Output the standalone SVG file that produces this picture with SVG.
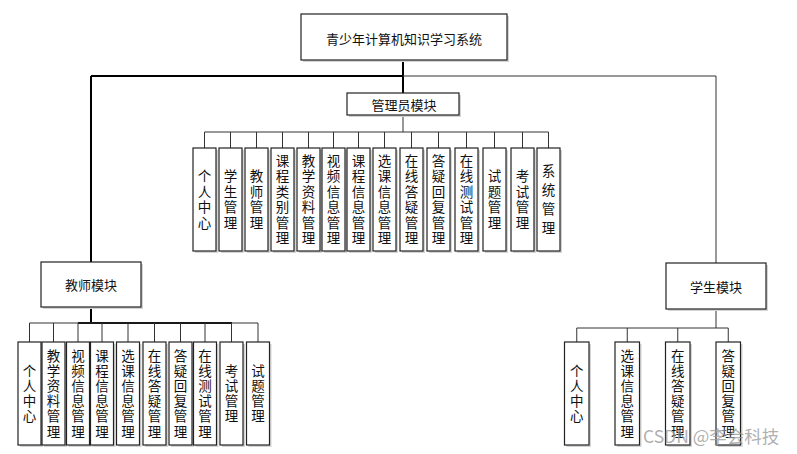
<svg xmlns="http://www.w3.org/2000/svg" width="797" height="454" viewBox="0 0 797 454">
<style>
.bx{fill:#fff;stroke:#222;stroke-width:1.2}
.sh{fill:#d4d4d4;stroke:none}
.t{font-family:"Noto Sans CJK SC","Liberation Sans",sans-serif;fill:#111;text-anchor:middle;dominant-baseline:central;font-size:13px}
.v{font-family:"Liberation Sans","Noto Sans CJK SC",sans-serif;font-size:13.5px;fill:#111;text-anchor:middle;dominant-baseline:central}
.ln{stroke:#333;stroke-width:1;fill:none}
.lk{stroke:#000;stroke-width:2;fill:none}
.wm{font-family:"Noto Sans CJK SC","Liberation Sans",sans-serif;font-size:17.5px;fill:#9a9a9a;fill-opacity:0.8}
</style>
<rect width="797" height="454" fill="#fff"/>
<g id="connectors">
<path class="lk" d="M403,60V93 M91,76H403 M91,76V263"/>
<path class="ln" d="M403,76H716V263"/>
<path class="ln" d="M403,115V132 M204.5,132H548.5 M204.5,132V148 M230.5,132V148 M256.5,132V148 M282.5,132V148 M308.5,132V148 M333.5,132V148 M358.5,132V148 M384.5,132V148 M411.5,132V148 M438.5,132V148 M466.5,132V148 M494.5,132V148 M522.5,132V148 M548.5,132V148"/>
<path class="lk" d="M91,307V323 M78,323H232"/>
<path class="ln" d="M29.5,323H258 M29.5,323V342 M53.5,323V342 M78,323V342 M102,323V342 M128,323V342 M154.5,323V342 M180.5,323V342 M205,323V342 M231.5,323V342 M258,323V342"/>
<path class="ln" d="M716,309V328 M576.75,328H728.25 M576.75,328V342 M627.25,328V342 M677.75,328V342 M728.25,328V342"/>
</g>
<g id="root"><rect class="sh" x="303" y="16" width="206" height="46"/><rect class="bx" x="301" y="14" width="206" height="46"/><text class="t" x="404" y="38">青少年计算机知识学习系统</text></g>
<g id="admin"><rect class="sh" x="349" y="95" width="112" height="22"/><rect class="bx" x="347" y="93" width="112" height="22"/><text class="t" x="404" y="104">管理员模块</text></g>
<g id="teacher"><rect class="sh" x="43" y="264" width="100" height="45"/><rect class="bx" x="41" y="262" width="100" height="45"/><text class="t" x="91" y="284">教师模块</text></g>
<g id="student"><rect class="sh" x="668" y="265" width="100" height="46"/><rect class="bx" x="666" y="263" width="100" height="46"/><text class="t" x="716" y="286">学生模块</text></g>

<g id="a1"><rect class="sh" x="195" y="150" width="23" height="103"/><rect class="bx" x="193" y="148" width="23" height="103"/><text class="v"><tspan x="204.5" y="176.4">个</tspan><tspan x="204.5" y="191.8">人</tspan><tspan x="204.5" y="207.2">中</tspan><tspan x="204.5" y="222.6">心</tspan></text></g>
<g id="a2"><rect class="sh" x="221" y="150" width="23" height="103"/><rect class="bx" x="219" y="148" width="23" height="103"/><text class="v"><tspan x="230.5" y="176.4">学</tspan><tspan x="230.5" y="191.8">生</tspan><tspan x="230.5" y="207.2">管</tspan><tspan x="230.5" y="222.6">理</tspan></text></g>
<g id="a3"><rect class="sh" x="247" y="150" width="23" height="103"/><rect class="bx" x="245" y="148" width="23" height="103"/><text class="v"><tspan x="256.5" y="176.4">教</tspan><tspan x="256.5" y="191.8">师</tspan><tspan x="256.5" y="207.2">管</tspan><tspan x="256.5" y="222.6">理</tspan></text></g>
<g id="a4"><rect class="sh" x="273" y="150" width="23" height="103"/><rect class="bx" x="271" y="148" width="23" height="103"/><text class="v"><tspan x="282.5" y="161">课</tspan><tspan x="282.5" y="176.4">程</tspan><tspan x="282.5" y="191.8">类</tspan><tspan x="282.5" y="207.2">别</tspan><tspan x="282.5" y="222.6">管</tspan><tspan x="282.5" y="238">理</tspan></text></g>
<g id="a5"><rect class="sh" x="299" y="150" width="23" height="103"/><rect class="bx" x="297" y="148" width="23" height="103"/><text class="v"><tspan x="308.5" y="161">教</tspan><tspan x="308.5" y="176.4">学</tspan><tspan x="308.5" y="191.8">资</tspan><tspan x="308.5" y="207.2">料</tspan><tspan x="308.5" y="222.6">管</tspan><tspan x="308.5" y="238">理</tspan></text></g>
<g id="a6"><rect class="sh" x="324" y="150" width="23" height="103"/><rect class="bx" x="322" y="148" width="23" height="103"/><text class="v"><tspan x="333.5" y="161">视</tspan><tspan x="333.5" y="176.4">频</tspan><tspan x="333.5" y="191.8">信</tspan><tspan x="333.5" y="207.2">息</tspan><tspan x="333.5" y="222.6">管</tspan><tspan x="333.5" y="238">理</tspan></text></g>
<g id="a7"><rect class="sh" x="349" y="150" width="23" height="103"/><rect class="bx" x="347" y="148" width="23" height="103"/><text class="v"><tspan x="358.5" y="161">课</tspan><tspan x="358.5" y="176.4">程</tspan><tspan x="358.5" y="191.8">信</tspan><tspan x="358.5" y="207.2">息</tspan><tspan x="358.5" y="222.6">管</tspan><tspan x="358.5" y="238">理</tspan></text></g>
<g id="a8"><rect class="sh" x="375" y="150" width="23" height="103"/><rect class="bx" x="373" y="148" width="23" height="103"/><text class="v"><tspan x="384.5" y="161">选</tspan><tspan x="384.5" y="176.4">课</tspan><tspan x="384.5" y="191.8">信</tspan><tspan x="384.5" y="207.2">息</tspan><tspan x="384.5" y="222.6">管</tspan><tspan x="384.5" y="238">理</tspan></text></g>
<g id="a9"><rect class="sh" x="402" y="150" width="23" height="103"/><rect class="bx" x="400" y="148" width="23" height="103"/><text class="v"><tspan x="411.5" y="161">在</tspan><tspan x="411.5" y="176.4">线</tspan><tspan x="411.5" y="191.8">答</tspan><tspan x="411.5" y="207.2">疑</tspan><tspan x="411.5" y="222.6">管</tspan><tspan x="411.5" y="238">理</tspan></text></g>
<g id="a10"><rect class="sh" x="429" y="150" width="23" height="103"/><rect class="bx" x="427" y="148" width="23" height="103"/><text class="v"><tspan x="438.5" y="161">答</tspan><tspan x="438.5" y="176.4">疑</tspan><tspan x="438.5" y="191.8">回</tspan><tspan x="438.5" y="207.2">复</tspan><tspan x="438.5" y="222.6">管</tspan><tspan x="438.5" y="238">理</tspan></text></g>
<g id="a11"><rect class="sh" x="457" y="150" width="23" height="103"/><rect class="bx" x="455" y="148" width="23" height="103"/><text class="v"><tspan x="466.5" y="161">在</tspan><tspan x="466.5" y="176.4">线</tspan><tspan x="466.5" y="191.8">测</tspan><tspan x="466.5" y="207.2">试</tspan><tspan x="466.5" y="222.6">管</tspan><tspan x="466.5" y="238">理</tspan></text></g>
<g id="a12"><rect class="sh" x="485" y="150" width="23" height="103"/><rect class="bx" x="483" y="148" width="23" height="103"/><text class="v"><tspan x="494.5" y="176.4">试</tspan><tspan x="494.5" y="191.8">题</tspan><tspan x="494.5" y="207.2">管</tspan><tspan x="494.5" y="222.6">理</tspan></text></g>
<g id="a13"><rect class="sh" x="513" y="150" width="23" height="103"/><rect class="bx" x="511" y="148" width="23" height="103"/><text class="v"><tspan x="522.5" y="176.4">考</tspan><tspan x="522.5" y="191.8">试</tspan><tspan x="522.5" y="207.2">管</tspan><tspan x="522.5" y="222.6">理</tspan></text></g>
<g id="a14"><rect class="sh" x="539" y="150" width="23" height="103"/><rect class="bx" x="537" y="148" width="23" height="103"/><text class="v"><tspan x="548.5" y="171">系</tspan><tspan x="548.5" y="190">统</tspan><tspan x="548.5" y="209">管</tspan><tspan x="548.5" y="228">理</tspan></text></g>

<g id="t1"><rect class="sh" x="20" y="344" width="23" height="103"/><rect class="bx" x="18" y="342" width="23" height="103"/><text class="v"><tspan x="29.5" y="370.7">个</tspan><tspan x="29.5" y="385.9">人</tspan><tspan x="29.5" y="401.1">中</tspan><tspan x="29.5" y="416.3">心</tspan></text></g>
<g id="t2"><rect class="sh" x="44" y="344" width="23" height="103"/><rect class="bx" x="42" y="342" width="23" height="103"/><text class="v"><tspan x="53.5" y="355.5">教</tspan><tspan x="53.5" y="370.7">学</tspan><tspan x="53.5" y="385.9">资</tspan><tspan x="53.5" y="401.1">料</tspan><tspan x="53.5" y="416.3">管</tspan><tspan x="53.5" y="431.5">理</tspan></text></g>
<g id="t3"><rect class="sh" x="68.5" y="344" width="23" height="103"/><rect class="bx" x="66.5" y="342" width="23" height="103"/><text class="v"><tspan x="78" y="355.5">视</tspan><tspan x="78" y="370.7">频</tspan><tspan x="78" y="385.9">信</tspan><tspan x="78" y="401.1">息</tspan><tspan x="78" y="416.3">管</tspan><tspan x="78" y="431.5">理</tspan></text></g>
<g id="t4"><rect class="sh" x="92.5" y="344" width="23" height="103"/><rect class="bx" x="90.5" y="342" width="23" height="103"/><text class="v"><tspan x="102" y="355.5">课</tspan><tspan x="102" y="370.7">程</tspan><tspan x="102" y="385.9">信</tspan><tspan x="102" y="401.1">息</tspan><tspan x="102" y="416.3">管</tspan><tspan x="102" y="431.5">理</tspan></text></g>
<g id="t5"><rect class="sh" x="118.5" y="344" width="23" height="103"/><rect class="bx" x="116.5" y="342" width="23" height="103"/><text class="v"><tspan x="128" y="355.5">选</tspan><tspan x="128" y="370.7">课</tspan><tspan x="128" y="385.9">信</tspan><tspan x="128" y="401.1">息</tspan><tspan x="128" y="416.3">管</tspan><tspan x="128" y="431.5">理</tspan></text></g>
<g id="t6"><rect class="sh" x="145" y="344" width="23" height="103"/><rect class="bx" x="143" y="342" width="23" height="103"/><text class="v"><tspan x="154.5" y="355.5">在</tspan><tspan x="154.5" y="370.7">线</tspan><tspan x="154.5" y="385.9">答</tspan><tspan x="154.5" y="401.1">疑</tspan><tspan x="154.5" y="416.3">管</tspan><tspan x="154.5" y="431.5">理</tspan></text></g>
<g id="t7"><rect class="sh" x="171" y="344" width="23" height="103"/><rect class="bx" x="169" y="342" width="23" height="103"/><text class="v"><tspan x="180.5" y="355.5">答</tspan><tspan x="180.5" y="370.7">疑</tspan><tspan x="180.5" y="385.9">回</tspan><tspan x="180.5" y="401.1">复</tspan><tspan x="180.5" y="416.3">管</tspan><tspan x="180.5" y="431.5">理</tspan></text></g>
<g id="t8"><rect class="sh" x="195.5" y="344" width="23" height="103"/><rect class="bx" x="193.5" y="342" width="23" height="103"/><text class="v"><tspan x="205" y="355.5">在</tspan><tspan x="205" y="370.7">线</tspan><tspan x="205" y="385.9">测</tspan><tspan x="205" y="401.1">试</tspan><tspan x="205" y="416.3">管</tspan><tspan x="205" y="431.5">理</tspan></text></g>
<g id="t9"><rect class="sh" x="222" y="344" width="23" height="103"/><rect class="bx" x="220" y="342" width="23" height="103"/><text class="v"><tspan x="231.5" y="370.7">考</tspan><tspan x="231.5" y="385.9">试</tspan><tspan x="231.5" y="401.1">管</tspan><tspan x="231.5" y="416.3">理</tspan></text></g>
<g id="t10"><rect class="sh" x="248.5" y="344" width="23" height="103"/><rect class="bx" x="246.5" y="342" width="23" height="103"/><text class="v"><tspan x="258" y="370.7">试</tspan><tspan x="258" y="385.9">题</tspan><tspan x="258" y="401.1">管</tspan><tspan x="258" y="416.3">理</tspan></text></g>

<g id="s1"><rect class="sh" x="566.5" y="344" width="24.5" height="103"/><rect class="bx" x="564.5" y="342" width="24.5" height="103"/><text class="v"><tspan x="576.75" y="370.7">个</tspan><tspan x="576.75" y="385.9">人</tspan><tspan x="576.75" y="401.1">中</tspan><tspan x="576.75" y="416.3">心</tspan></text></g>
<g id="s2"><rect class="sh" x="617" y="344" width="24.5" height="103"/><rect class="bx" x="615" y="342" width="24.5" height="103"/><text class="v"><tspan x="627.25" y="355.5">选</tspan><tspan x="627.25" y="370.7">课</tspan><tspan x="627.25" y="385.9">信</tspan><tspan x="627.25" y="401.1">息</tspan><tspan x="627.25" y="416.3">管</tspan><tspan x="627.25" y="431.5">理</tspan></text></g>
<g id="s3"><rect class="sh" x="667.5" y="344" width="24.5" height="103"/><rect class="bx" x="665.5" y="342" width="24.5" height="103"/><text class="v"><tspan x="677.75" y="355.5">在</tspan><tspan x="677.75" y="370.7">线</tspan><tspan x="677.75" y="385.9">答</tspan><tspan x="677.75" y="401.1">疑</tspan><tspan x="677.75" y="416.3">管</tspan><tspan x="677.75" y="431.5">理</tspan></text></g>
<g id="s4"><rect class="sh" x="718" y="344" width="24.5" height="103"/><rect class="bx" x="716" y="342" width="24.5" height="103"/><text class="v"><tspan x="728.25" y="355.5">答</tspan><tspan x="728.25" y="370.7">疑</tspan><tspan x="728.25" y="385.9">回</tspan><tspan x="728.25" y="401.1">复</tspan><tspan x="728.25" y="416.3">管</tspan><tspan x="728.25" y="431.5">理</tspan></text></g>

<text class="wm" x="643" y="443">CSDN @李会科技</text>
</svg>
